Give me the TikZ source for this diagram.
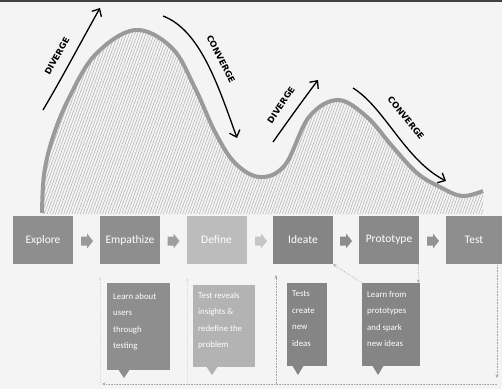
\documentclass[tikz,border=0pt]{standalone}
\usepackage{fontspec}
\setmainfont{Carlito}
\newfontfamily\handfont{DejaVu Sans}
\usetikzlibrary{arrows.meta,patterns.meta}
\definecolor{bg}{HTML}{F4F4F4}
\definecolor{boxA}{HTML}{8E8E8E}
\definecolor{boxB}{HTML}{BCBCBC}
\definecolor{boxC}{HTML}{858585}
\definecolor{curvegray}{HTML}{9A9A9A}
\definecolor{hatchgray}{HTML}{ABABAB}
\tikzset{
  stagebox/.style={draw=none, minimum width=60pt, minimum height=48pt, inner sep=0pt, text=white, font=\fontsize{11.5}{12}\selectfont},
  notebox/.style={draw=none, inner sep=0pt, anchor=north west},
  notetext/.style={anchor=north west, inner sep=0pt, align=left, text=white, font=\fontsize{8.8}{16.5}\selectfont},
  flowarrow/.pic={\fill (-6,-4.5) -- (0,-4.5) -- (0,-7.5) -- (6,0) -- (0,7.5) -- (0,4.5) -- (-6,4.5) -- cycle;},
  handarrow/.style={line width=1.3pt, black, -{Straight Barb[length=6pt,width=11pt,line width=1.3pt]}},
  handlabel/.style={font=\handfont\bfseries\fontsize{8.5}{9}\selectfont, inner sep=0pt},
  loopline/.style={gray!70, densely dotted, line width=0.6pt},
  looptip/.style={-{Stealth[length=3.5pt,width=3pt]}},
}
\begin{document}
\begin{tikzpicture}[x=1pt,y=-1pt]
\useasboundingbox (0,0) rectangle (502,389);
\fill[bg] (0,0) rectangle (502,389);
\fill[black!75] (0,0) rectangle (502,2);

% hill curve with hatched area
\fill[pattern={Lines[angle=70,distance=2.6pt,line width=0.45pt]}, pattern color=hatchgray]
  plot[smooth,tension=0.6] coordinates {(42,213) (44,175) (52,140) (68,100) (95,55) (135,30) (172,48) (195,88) (215,132) (235,163) (260,177) (285,165) (309,117) (338,100) (367,117) (392,146) (417,173) (440,187) (462,196) (483,191)}
  -- (483,214) -- (42,214) -- cycle;
\draw[curvegray, line width=4pt]
  plot[smooth,tension=0.6] coordinates {(42,213) (44,175) (52,140) (68,100) (95,55) (135,30) (172,48) (195,88) (215,132) (235,163) (260,177) (285,165) (309,117) (338,100) (367,117) (392,146) (417,173) (440,187) (462,196) (483,191)};

% diverge / converge arrows
\coordinate (d1s) at (43,110); \coordinate (d1e) at (100,8);
\coordinate (c1s) at (163,16); \coordinate (c1e) at (237,138);
\coordinate (d2s) at (273,142); \coordinate (d2e) at (318,80);
\coordinate (c2s) at (353,88); \coordinate (c2e) at (446,181);
\draw[handarrow] (d1s) .. controls (62,78) and (82,40) .. (d1e);
\draw[handarrow] (c1s) .. controls (200,30) and (218,85) .. (c1e);
\draw[handarrow] (d2s) .. controls (290,118) and (303,100) .. (d2e);
\draw[handarrow] (c2s) .. controls (385,108) and (405,160) .. (c2e);
\node[handlabel, rotate=61] (lab1) at (57,56) {DIVERGE};
\node[handlabel, rotate=-63] (lab2) at (221,59) {CONVERGE};
\node[handlabel, rotate=56] (lab3) at (281,105) {DIVERGE};
\node[handlabel, rotate=-51] (lab4) at (406,118) {CONVERGE};

% stage boxes
\node[stagebox, fill=boxA] (explore) at (43,240) {Explore};
\node[stagebox, fill=boxA] (empathize) at (130,240) {Empathize};
\node[stagebox, fill=boxB] (define) at (216.5,240) {Define};
\node[stagebox, fill=boxC] (ideate) at (303,240) {Ideate};
\node[stagebox, fill=boxC!97!white] (prototype) at (389,240) {Prototype};
\node[stagebox, fill=boxA, minimum width=56pt] (test) at (474,240) {Test};

% flow arrows between boxes
\pic[gray!80] at (87,241) {flowarrow};
\pic[gray!75] at (173.5,241) {flowarrow};
\pic[gray!45] at (261,241) {flowarrow};
\pic[gray!90] at (346,241) {flowarrow};
\pic[gray!85] at (433,241) {flowarrow};

% callouts
\node[notebox, fill=boxA, minimum width=63pt, minimum height=87pt] (n1) at (107,283) {};
\fill[boxA] (118,369) -- (130,369) -- (124,378) -- cycle;
\node[notetext] (t1) at (113,293) {Learn about\\users\\through\\testing};

\node[notebox, fill=boxB!95!black, minimum width=62pt, minimum height=82pt] (n2) at (193,285) {};
\fill[boxB!95!black] (206,366) -- (218,366) -- (212,375) -- cycle;
\node[notetext] (t2) at (198,292) {Test reveals\\insights \&\\redefine the\\problem};

\node[notebox, fill=boxC, minimum width=40pt, minimum height=83pt] (n3) at (287,283) {};
\fill[boxC] (292,365) -- (304,365) -- (298,375) -- cycle;
\node[notetext] (t3) at (292,291) {Tests\\create\\new\\ideas};

\node[notebox, fill=boxC, minimum width=58pt, minimum height=83pt] (n4) at (362,283) {};
\fill[boxC] (372,365) -- (384,365) -- (378,375) -- cycle;
\node[notetext] (t4) at (367,291) {Learn from\\prototypes\\and spark\\new ideas};

% dotted feedback lines
\coordinate (lbr) at (497,384);
\coordinate (lbl) at (102,384);
\coordinate (lti) at (276,384);
\coordinate (lt1) at (100,384);
\coordinate (lt2) at (187,384);
\coordinate (ltop) at (497,265);
\coordinate (lbot) at (497,378);
\draw[loopline, looptip] (ltop) -- (lbot);
\draw[loopline, looptip] (lbr) -- (lbl);
\draw[loopline, looptip] (lti) -- (276,275);
\draw[gray!25, densely dotted, line width=0.5pt, looptip] (lt1) -- (100,277);
\draw[gray!25, densely dotted, line width=0.5pt, looptip] (lt2) -- (187,278);
\draw[loopline, looptip] (n4.north west) -- (ideate.south east);
\draw[loopline, looptip] ([xshift=-1pt]prototype.south east) -- ([xshift=-2pt]n4.north east);
\end{tikzpicture}
\end{document}
